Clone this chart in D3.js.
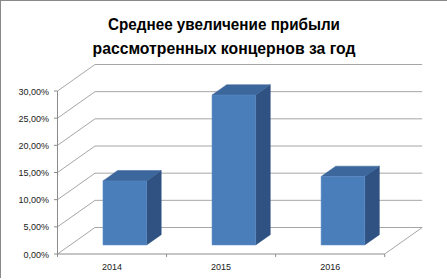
<!DOCTYPE html>
<html>
<head>
<meta charset="utf-8">
<script src="https://cdn.jsdelivr.net/npm/d3@7"></script>
<style>
  body { margin: 0; background: #fff; }
  text { font-family: "Liberation Sans", Arial, sans-serif; }
</style>
</head>
<body>
<div id="chart"></div>
<script>
// data
var years = ["2014", "2015", "2016"]
var growth = [0.118, 0.276, 0.126]
var yTicks = [0, 0.05, 0.10, 0.15, 0.20, 0.25, 0.30]
var titleLines = ["Среднее увеличение прибыли", "рассмотренных концернов за год"]

var width = 447
var height = 280

var svg = d3.select("#chart")
    .append("svg")
    .attr("width", width)
    .attr("height", height)

// outer border (only left / top visible in the picture)
svg.append("line").attr("x1", 0.5).attr("y1", 0).attr("x2", 0.5).attr("y2", 278).style("stroke", "#8a8a8a")
svg.append("line").attr("x1", 0).attr("y1", 0.5).attr("x2", width).attr("y2", 0.5).style("stroke", "#8a8a8a")

// title
svg.selectAll(".title")
    .data(titleLines)
    .enter()
    .append("text")
    .attr("x", 224)
    .attr("y", function (d, i) { return 29.5 + i * 24 })
    .attr("text-anchor", "middle")
    .attr("textLength", function (d, i) { return i == 0 ? 232 : 263 })
    .attr("lengthAdjust", "spacingAndGlyphs")
    .style("font-size", "17px")
    .style("font-weight", "bold")
    .style("fill", "#000")
    .text(function (d) { return d })

// scales for the front plane
var x = d3.scaleBand()
    .domain(years)
    .range([57.5, 384.7])

var y = d3.scaleLinear()
    .domain([0, 0.30])
    .range([254, 91])

// depth offset of the 3d box
var depthX = 37.5, depthY = -26.5
function off(t) { return [t * depthX, t * depthY] }

var grid = "#a6a6a6"
var axisCol = "#8c8c8c"

// gridlines: diagonal on the side wall, then horizontal on the back wall
yTicks.forEach(function (v) {
    var y0 = y(v)
    svg.append("line")
        .attr("x1", 57.5).attr("y1", y0)
        .attr("x2", 57.5 + depthX).attr("y2", y0 + depthY)
        .style("stroke", grid)
    svg.append("line")
        .attr("x1", 57.5 + depthX).attr("y1", y0 + depthY)
        .attr("x2", 384.7 + depthX).attr("y2", y0 + depthY)
        .style("stroke", grid)
    // tick mark
    svg.append("line")
        .attr("x1", 54).attr("y1", y0)
        .attr("x2", 57.5).attr("y2", y0)
        .style("stroke", axisCol)
})

// floor right edge
svg.append("line")
    .attr("x1", 384.7).attr("y1", y(0))
    .attr("x2", 384.7 + depthX).attr("y2", y(0) + depthY)
    .style("stroke", grid)

// value axis
svg.append("line")
    .attr("x1", 57.5).attr("y1", y(0.30))
    .attr("x2", 57.5).attr("y2", y(0))
    .style("stroke", axisCol)

// category axis
svg.append("line")
    .attr("x1", 57.5).attr("y1", y(0))
    .attr("x2", 384.7).attr("y2", y(0))
    .style("stroke", axisCol)

var bounds = [57.5].concat(years.map(function (d) { return x(d) + x.bandwidth() }))
bounds.forEach(function (bx) {
    svg.append("line")
        .attr("x1", bx).attr("y1", y(0))
        .attr("x2", bx).attr("y2", y(0) + 3)
        .style("stroke", axisCol)
})

// tick labels
svg.selectAll(".ylab")
    .data(yTicks)
    .enter()
    .append("text")
    .attr("x", 49)
    .attr("y", function (d) { return y(d) + 3.5 })
    .attr("text-anchor", "end")
    .style("font-size", "9px")
    .style("fill", "#222")
    .text(function (d) { return d3.format(".2f")(d * 100).replace(".", ",") + "%" })

svg.selectAll(".xlab")
    .data(years)
    .enter()
    .append("text")
    .attr("x", function (d) { return x(d) + x.bandwidth() / 2 })
    .attr("y", 269.5)
    .attr("text-anchor", "middle")
    .style("font-size", "9px")
    .style("fill", "#222")
    .text(function (d) { return d })

// bars as boxes
var t0 = 0.34, t1 = 0.73
var bw = x.bandwidth() * 0.4

years.forEach(function (yr, i) {
    var left = x(yr) + (x.bandwidth() - bw) / 2
    var right = left + bw
    var top = y(growth[i])
    var bot = y(0)
    var a = off(t0), b = off(t1)
    function p(px, py, o) { return (px + o[0]) + "," + (py + o[1]) }

    // side face
    svg.append("polygon")
        .attr("points", [p(right, bot, a), p(right, top, a), p(right, top, b), p(right, bot, b)].join(" "))
        .style("fill", "#2f5282")
        .style("stroke", "#2f5282")
        .style("stroke-width", 0.5)
    // top face
    svg.append("polygon")
        .attr("points", [p(left, top, a), p(right, top, a), p(right, top, b), p(left, top, b)].join(" "))
        .style("fill", "#3c679c")
        .style("stroke", "#3c679c")
        .style("stroke-width", 0.5)
    // front face
    svg.append("polygon")
        .attr("points", [p(left, bot, a), p(right, bot, a), p(right, top, a), p(left, top, a)].join(" "))
        .style("fill", "#4a7ebb")
        .style("stroke", "#5a8bc6")
        .style("stroke-width", 0.5)
})
</script>
</body>
</html>
